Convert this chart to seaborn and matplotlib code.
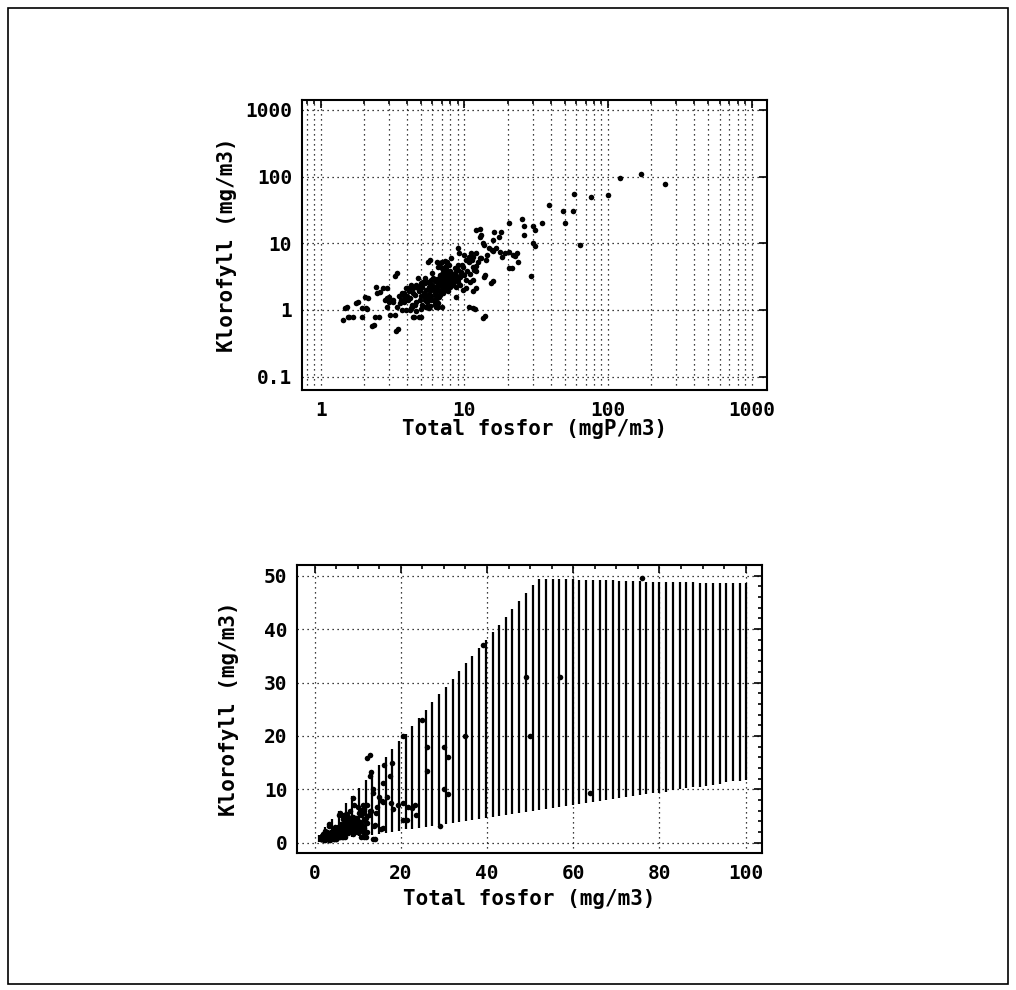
import matplotlib
matplotlib.use("Agg")
import matplotlib.pyplot as plt
import matplotlib.ticker as mticker
from matplotlib.patches import Rectangle
import pandas as pd
import seaborn as sns

# observed lakes: total phosphorus (mgP/m3) and chlorophyll (mg/m3)
tp_obs = [
    121, 169, 248, 58, 76, 100, 39, 49, 57, 50,
    35, 30, 26, 25, 20.5, 30, 31, 64, 29, 26,
    31, 22.7, 23.6, 20.5, 21.5, 15.9, 14, 11.4, 10.8, 11.8,
    12.8, 13, 16.2, 18, 15.8, 17.4, 13.6, 14.9, 15.8, 16.7,
    17.7, 19.3, 20.5, 21.7, 23.3, 18.2, 14.4, 12.1, 12.8, 11.4,
    10.8, 10.0, 9.0, 9.6, 9.0, 12.1, 14.0, 11.4, 12.1, 11.4,
    10.3, 9.3, 8.5, 8.1, 7.6, 6.8, 7.0, 7.4, 6.4, 5.8,
    7.2, 1.42, 1.53, 1.58, 1.67, 1.82, 1.93, 2.05, 2.13, 2.11,
    1.93, 2.34, 2.37, 2.54, 2.44, 2.58, 2.9, 3.0, 3.2, 3.42,
    3.3, 3.46, 3.56, 3.67, 3.78, 3.89, 4.12, 4.24, 4.5, 4.45,
    4.99, 4.76, 5.0, 5.35, 5.67, 5.84, 6.2, 6.56, 6.96, 6.76,
    7.16, 7.82, 6.0, 5.35, 5.67, 4.76, 4.24, 6.0, 6.76, 7.37,
    8.06, 8.5, 6.76, 6.4, 2.7, 2.8, 3.28, 3.33, 3.75, 3.91,
    4.06, 4.17, 4.4, 4.4, 4.64, 4.84, 4.94, 5.16, 5.3, 5.44,
    5.58, 5.74, 5.9, 6.07, 6.23, 6.38, 6.55, 6.66, 6.92, 7.1,
    7.3, 7.5, 7.8, 8.1, 8.3, 8.55, 8.8, 9.2, 9.5, 9.8,
    10.3, 10.9, 11.2, 11.5, 12.1, 12.8, 13.5, 13.8, 14.2, 15.6,
    15.4, 13.5, 1.48, 1.56, 1.76, 2.03, 2.26, 2.47, 2.9, 3.03,
    4.2, 4.5, 4.8, 5.0, 5.2, 5.4, 5.6, 5.8, 6.0, 6.2,
    6.4, 6.6, 6.8, 7.0, 7.2, 7.4, 7.6, 7.8, 8.0, 4.3,
    4.6, 4.9, 5.1, 5.3, 5.5, 5.7, 5.9, 6.1, 6.3, 6.5,
    6.7, 6.9, 7.1, 7.3, 7.5, 7.7, 3.6, 3.8, 4.0, 4.1,
    4.4, 4.7, 5.0, 5.3, 5.6, 5.9, 6.2, 6.5, 6.8, 7.1,
    7.4, 7.7, 8.2, 8.5, 8.8, 9.0, 9.3, 9.6, 3.9, 4.3,
    4.6, 5.0, 5.4, 5.8, 6.2, 6.6, 3.4, 3.5, 3.7, 3.2,
    3.0, 2.9, 4.9, 5.1, 5.7, 6.0, 6.3, 6.9, 7.2, 7.9,
    8.3, 8.7, 9.1, 9.5, 10.0, 10.5, 10.2, 11.0, 11.6, 12.0,
    12.5, 13.0, 11.3, 10.8, 9.8, 9.0, 8.6, 8.0, 7.5, 7.0,
    6.8, 7.0, 7.3, 7.6, 7.8, 7.5, 7.2,
]
chl_obs = [
    94, 110, 77, 54, 49.5, 53, 37, 31, 31, 20,
    20, 18, 18, 23, 20, 10, 9.2, 9.4, 3.2, 13.5,
    16, 6.5, 5.3, 4.2, 4.2, 2.7, 0.8, 1.06, 1.12, 1.03,
    16.4, 13.3, 14.6, 15, 11.2, 12.6, 9.4, 8.6, 7.7, 8.6,
    7.5, 7.1, 7.5, 6.7, 7.1, 6.3, 6.7, 7.1, 6.0, 6.3,
    5.3, 6.7, 8.4, 4.7, 4.0, 3.8, 3.3, 2.8, 2.1, 1.9,
    2.1, 2.4, 3.2, 3.5, 4.7, 5.0, 4.2, 4.0, 5.3, 5.6,
    3.3, 0.71, 1.12, 0.79, 0.79, 1.33, 1.06, 1.06, 1.5, 1.03,
    0.79, 0.6, 0.79, 0.79, 2.2, 1.88, 2.1, 1.58, 1.33, 3.55,
    0.84, 0.52, 1.26, 1.0, 1.78, 1.5, 2.1, 1.06, 1.19, 0.79,
    0.79, 2.1, 2.5, 1.68, 1.06, 2.1, 1.33, 1.12, 1.12, 1.68,
    2.0, 2.37, 3.55, 3.0, 2.66, 3.0, 2.37, 2.24, 2.8, 3.0,
    3.35, 2.8, 3.35, 2.66, 2.11, 1.41, 3.23, 0.48, 1.68, 2.11,
    1.41, 1.0, 1.78, 0.78, 2.37, 0.79, 2.0, 2.66, 1.58, 1.12,
    5.3, 2.24, 1.41, 2.99, 2.0, 1.12, 4.47, 1.58, 2.51, 3.98,
    4.47, 2.0, 3.16, 5.96, 2.51, 3.55, 1.58, 7.08, 3.76, 2.0,
    5.62, 2.66, 7.08, 4.47, 15.8, 12.6, 10.0, 3.16, 5.6, 7.9,
    2.57, 0.75, 1.06, 0.78, 1.29, 1.58, 0.58, 1.78, 1.12, 0.84,
    1.5, 1.7, 1.9, 1.6, 1.8, 2.0, 1.7, 1.9, 2.1, 1.8,
    2.3, 2.0, 2.4, 2.2, 2.6, 2.3, 2.8, 2.5, 2.9, 1.2,
    1.3, 1.4, 1.2, 1.4, 1.3, 1.5, 1.6, 1.4, 1.6, 1.5,
    1.7, 1.9, 1.8, 2.0, 2.1, 1.9, 1.4, 1.3, 1.6, 1.9,
    2.1, 2.2, 2.4, 2.5, 2.6, 2.8, 2.7, 2.9, 3.1, 3.0,
    3.3, 3.4, 3.0, 2.7, 3.2, 2.6, 3.1, 3.4, 1.0, 1.1,
    0.95, 1.05, 1.1, 1.15, 1.2, 1.25, 1.1, 1.6, 1.8, 1.4,
    1.3, 1.5, 2.0, 2.2, 2.2, 2.4, 2.2, 2.6, 2.5, 2.2,
    2.4, 2.2, 2.9, 3.6, 3.3, 3.9, 2.8, 3.4, 4.0, 4.6,
    5.2, 6.0, 5.6, 6.2, 4.4, 4.8, 4.2, 3.8, 3.6, 3.5,
    5.0, 5.3, 5.4, 5.2, 4.8, 4.4, 4.2,
]

# interval band drawn as vertical bars in the lower panel
band_tp = [
    1.0, 2.5, 4.1, 5.6, 7.2, 8.7, 10.3, 11.8, 13.4, 14.9,
    16.5, 18.0, 19.6, 21.1, 22.7, 24.2, 25.8, 27.3, 28.9, 30.4,
    32.0, 33.5, 35.1, 36.6, 38.2, 39.7, 41.3, 42.8, 44.4, 45.9,
    47.5, 49.0, 50.6, 52.1, 53.7, 55.2, 56.8, 58.3, 59.9, 61.4,
    63.0, 64.5, 66.1, 67.6, 69.2, 70.7, 72.3, 73.8, 75.4, 76.9,
    78.5, 80.0, 81.6, 83.1, 84.7, 86.2, 87.8, 89.3, 90.9, 92.4,
    94.0, 95.5, 97.1, 98.6, 100.2,
]
band_low = [
    0.1, 0.3, 0.5, 0.6, 0.8, 1.0, 1.2, 1.4, 1.5, 1.7,
    1.9, 2.1, 2.3, 2.5, 2.6, 2.8, 3.0, 3.2, 3.4, 3.6,
    3.8, 3.9, 4.1, 4.3, 4.5, 4.7, 4.9, 5.0, 5.2, 5.4,
    5.6, 5.8, 6.0, 6.1, 6.3, 6.5, 6.7, 6.9, 7.1, 7.2,
    7.4, 7.6, 7.8, 8.0, 8.2, 8.3, 8.5, 8.7, 8.9, 9.1,
    9.3, 9.4, 9.6, 9.8, 10.0, 10.2, 10.4, 10.5, 10.7, 10.9,
    11.1, 11.3, 11.5, 11.6, 11.8,
]
band_high = [
    1.5, 3.0, 4.5, 5.9, 7.4, 8.8, 10.3, 11.7, 13.2, 14.6,
    16.1, 17.5, 19.0, 20.4, 21.9, 23.3, 24.9, 26.3, 27.8, 29.2,
    30.7, 32.1, 33.6, 35.0, 36.5, 37.9, 39.4, 40.8, 42.3, 43.7,
    45.2, 46.7, 48.2, 49.3, 49.3, 49.3, 49.3, 49.3, 49.3, 49.2,
    49.2, 49.2, 49.1, 49.1, 49.1, 49.0, 49.0, 49.0, 49.0, 48.9,
    48.9, 48.9, 48.9, 48.8, 48.8, 48.8, 48.8, 48.7, 48.7, 48.7,
    48.7, 48.7, 48.6, 48.6, 48.6,
]

log_xticks = [1, 10, 100, 1000]
log_xlabels = ["1", "10", "100", "1000"]
log_yticks = [0.1, 1, 10, 100, 1000]
log_ylabels = ["0.1", "1", "10", "100", "1000"]
lin_xticks = [0, 20, 40, 60, 80, 100]
lin_yticks = [0, 10, 20, 30, 40, 50]

assert len(tp_obs) == len(chl_obs)
assert len(band_tp) == len(band_low) == len(band_high)

sns.set_theme(style="white")
plt.rcParams["font.family"] = ["DejaVu Sans Mono"]
plt.rcParams["font.weight"] = "bold"
plt.rcParams["text.color"] = "black"
plt.rcParams["axes.labelcolor"] = "black"

obs = pd.DataFrame({"tp": tp_obs, "chl": chl_obs})
dots = (0, (1, 3))


def style_axes(ax):
    for sp in ax.spines.values():
        sp.set_visible(True)
        sp.set_color("black")
        sp.set_linewidth(1.5)
    ax.tick_params(which="both", direction="in", top=True, right=True,
                   colors="black", width=1.2, labelsize=14)
    ax.tick_params(which="major", length=6)
    ax.tick_params(which="minor", length=3)
    ax.tick_params(axis="x", which="both", pad=8)
    ax.tick_params(axis="y", which="both", pad=7)
    ax.set_axisbelow(True)


fig = plt.figure(figsize=(10.16, 9.9), dpi=100)

# top: log-log
ax1 = fig.add_axes([0.2972, 0.6061, 0.4577, 0.2929])
sns.scatterplot(data=obs, x="tp", y="chl", ax=ax1, color="black",
                s=16, marker="o", linewidth=0, zorder=3)
ax1.set_xscale("log")
ax1.set_yscale("log")
ax1.set_xlim(0.74, 1280)
ax1.set_ylim(0.063, 1410)
ax1.set_xticks(log_xticks, labels=log_xlabels)
ax1.set_yticks(log_yticks, labels=log_ylabels)
ax1.xaxis.set_minor_locator(mticker.LogLocator(base=10, subs=range(2, 10), numticks=20))
ax1.xaxis.set_minor_formatter(mticker.NullFormatter())
ax1.yaxis.set_minor_locator(mticker.NullLocator())
ax1.grid(True, which="major", axis="both", color="black", linestyle=dots, linewidth=0.9)
ax1.grid(True, which="minor", axis="x", color="black", linestyle=dots, linewidth=0.9)
style_axes(ax1)
ax1.set_xlabel("Total fosfor (mgP/m3)", fontsize=15, fontweight="bold", color="black")
ax1.set_ylabel("Klorofyll (mg/m3)", fontsize=15, fontweight="bold", color="black")
ax1.xaxis.set_label_coords(0.5, -0.10)
ax1.yaxis.set_label_coords(-0.14, 0.5)

# bottom: linear with interval bars
ax2 = fig.add_axes([0.2923, 0.1384, 0.4577, 0.2909])
ax2.vlines(band_tp, band_low, band_high, color="black", linewidth=1.6, zorder=2)
sns.scatterplot(data=obs, x="tp", y="chl", ax=ax2, color="black",
                s=16, marker="o", linewidth=0, zorder=3)
ax2.set_xlim(-4.1, 103.8)
ax2.set_ylim(-1.9, 52)
ax2.set_xticks(lin_xticks)
ax2.set_yticks(lin_yticks)
ax2.xaxis.set_minor_locator(mticker.MultipleLocator(5))
ax2.yaxis.set_minor_locator(mticker.MultipleLocator(2))
ax2.grid(True, which="major", axis="both", color="black", linestyle=dots, linewidth=0.9)
style_axes(ax2)
ax2.set_xlabel("Total fosfor (mg/m3)", fontsize=15, fontweight="bold", color="black")
ax2.set_ylabel("Klorofyll (mg/m3)", fontsize=15, fontweight="bold", color="black")
ax2.xaxis.set_label_coords(0.5, -0.125)
ax2.yaxis.set_label_coords(-0.125, 0.5)

# page frame
fig.patches.append(Rectangle((0.008, 0.006), 0.984, 0.986, transform=fig.transFigure,
                             fill=False, edgecolor="black", linewidth=1.2))

fig.savefig("out.png", dpi=100)
